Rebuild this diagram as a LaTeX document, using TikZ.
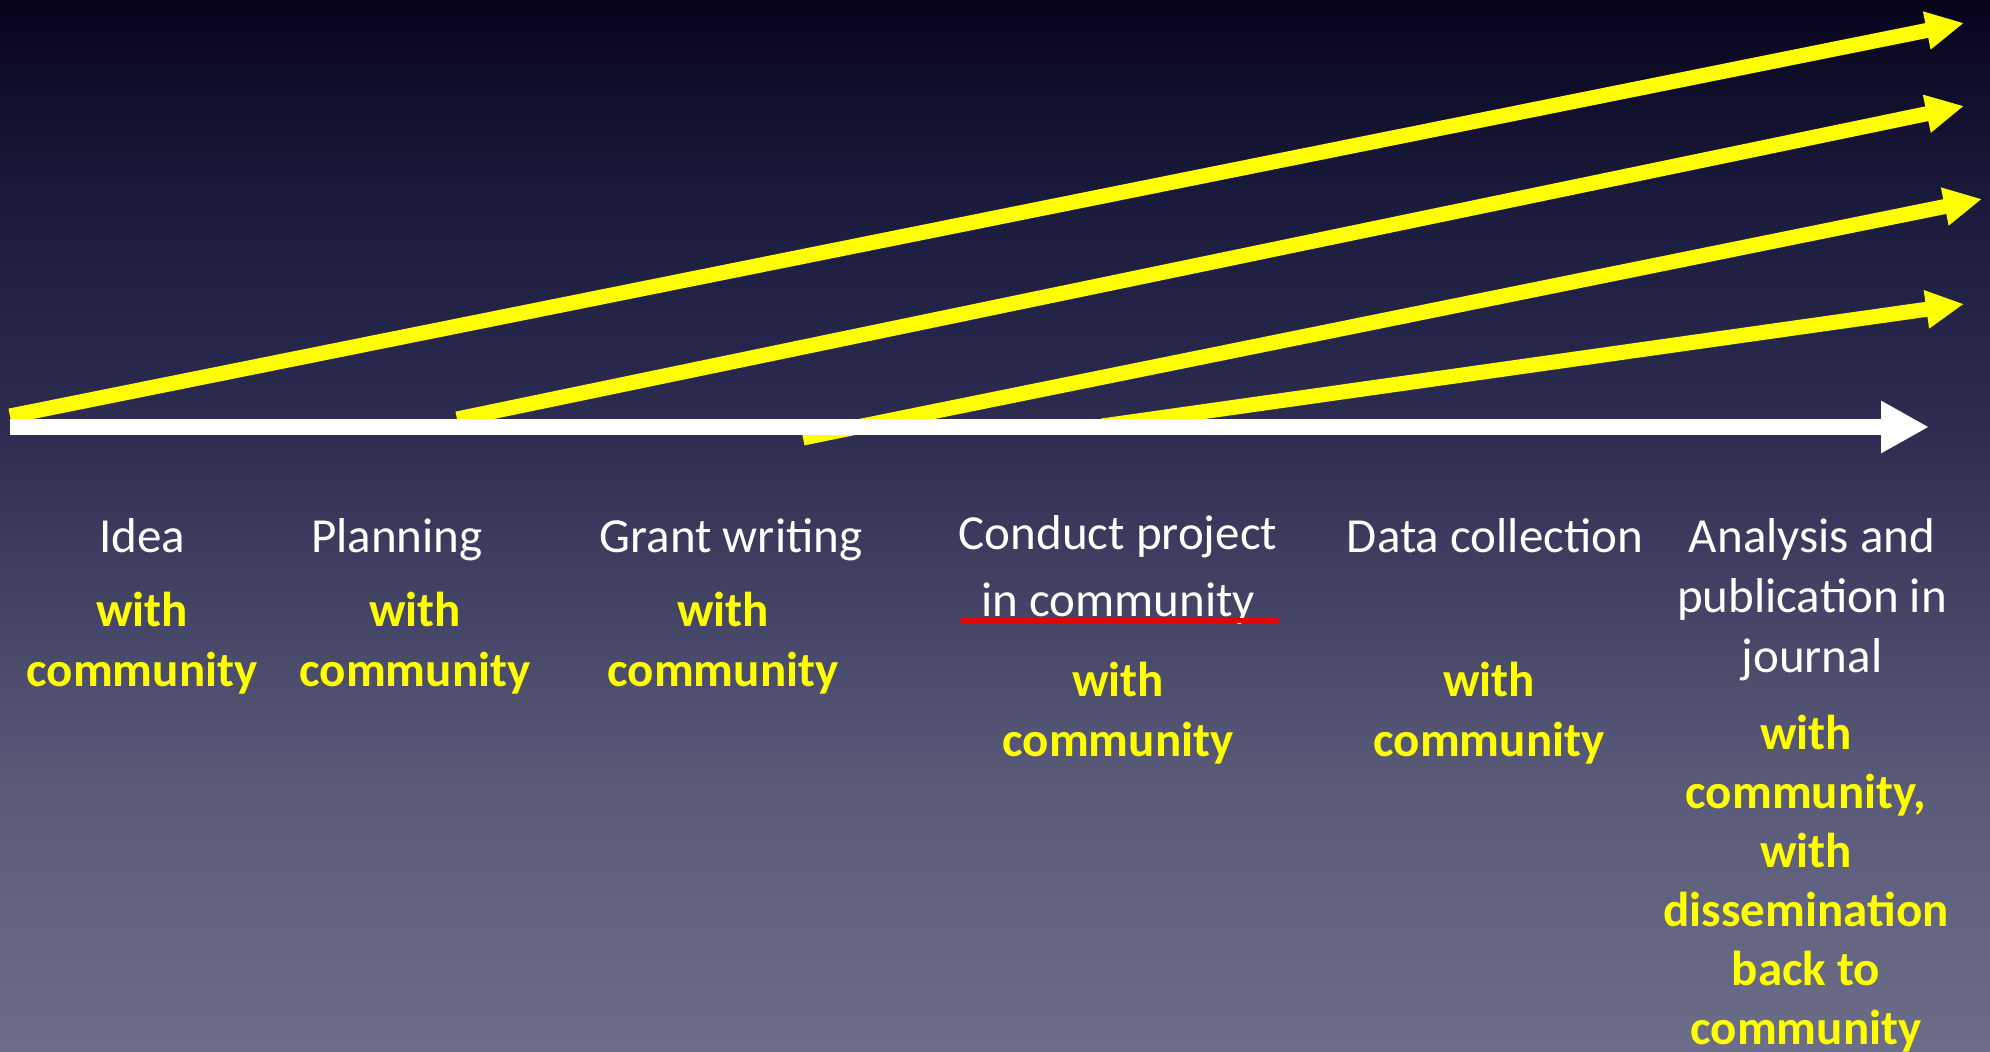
\documentclass[tikz,border=0pt]{standalone}
\usepackage{fontspec}
\setmainfont{Carlito}
\usetikzlibrary{arrows.meta}
\definecolor{bgA}{RGB}{108,109,136}
\definecolor{bgB}{RGB}{89,90,120}
\definecolor{bgC}{RGB}{45,45,82}
\definecolor{bgD}{RGB}{26,26,60}
\definecolor{bgE}{RGB}{7,5,28}
\definecolor{hiyellow}{RGB}{255,255,0}
\definecolor{strikered}{RGB}{235,0,0}
\pgfdeclareverticalshading{bgshade}{100bp}{color(0bp)=(bgA); color(25bp)=(bgA); color(38bp)=(bgB); color(54.6bp)=(bgC); color(65.5bp)=(bgD); color(75bp)=(bgE); color(100bp)=(bgE)}
\tikzset{
  stage/.style={text=white, align=center, inner sep=0pt, font=\fontsize{24.5}{30}\selectfont},
  stagewide/.style={text=white, align=center, inner sep=0pt, font=\fontsize{24.5}{33.5}\selectfont},
  withc/.style={text=hiyellow, align=center, inner sep=0pt, font=\fontsize{24.5}{30}\selectfont\bfseries},
  withlong/.style={text=hiyellow, align=center, inner sep=0pt, font=\fontsize{24.5}{29.5}\selectfont\bfseries},
  yarrow/.style={draw=hiyellow, line width=7.5pt, -{Triangle[length=19pt, width=18pt]}},
  warrow/.style={draw=white, line width=8pt, -{Triangle[length=24pt, width=24.5pt]}},
}
\begin{document}
\begin{tikzpicture}[x=0.5pt, y=-0.5pt]
\useasboundingbox (0,0) rectangle (1990,1052);
\shade[shading=bgshade] (0,0) rectangle (1990,1052);
% coordinates
\coordinate (y1s) at (10,416);
\coordinate (y1e) at (1964,23);
\coordinate (y2s) at (457,419);
\coordinate (y2e) at (1964,106);
\coordinate (y3s) at (803,438);
\coordinate (y3e) at (1982,199);
\coordinate (y4s) at (1102,426);
\coordinate (y4e) at (1964,304);
\coordinate (ws) at (10,427);
\coordinate (we) at (1929,427);
% yellow arrows
\draw[yarrow] (y1s) -- (y1e);
\draw[yarrow] (y2s) -- (y2e);
\draw[yarrow] (y3s) -- (y3e);
\draw[yarrow] (y4s) -- (y4e);
% white timeline
\draw[warrow] (ws) -- (we);
% stages
\node[stage, anchor=base] (idea) at (142,553) {Idea};
\node[withc] (ideaw) at (142,643) {with\\community};
\node[stage, anchor=base] (plan) at (397,553) {Planning};
\node[withc] (planw) at (415,643) {with\\community};
\node[stage, anchor=base] (grant) at (731,553) {Grant writing};
\node[withc] (grantw) at (723,643) {with\\community};
\node[stagewide] (conduct) at (1118,570) {Conduct project\\in community};
\node[withc] (conductw) at (1118,713) {with\\community};
\node[stage, anchor=base] (data) at (1495,553) {Data collection};
\node[withc] (dataw) at (1489,713) {with\\community};
\node[stage] (anal) at (1812,600) {Analysis and\\publication in\\journal};
\node[withlong] (analw) at (1806,884) {with\\community,\\with\\dissemination\\back to\\community};
% red strike line
\coordinate (rs) at (961,621);
\coordinate (re) at (1279,621);
\draw[strikered, line width=2.5pt] (rs) -- (re);
\end{tikzpicture}
\end{document}
